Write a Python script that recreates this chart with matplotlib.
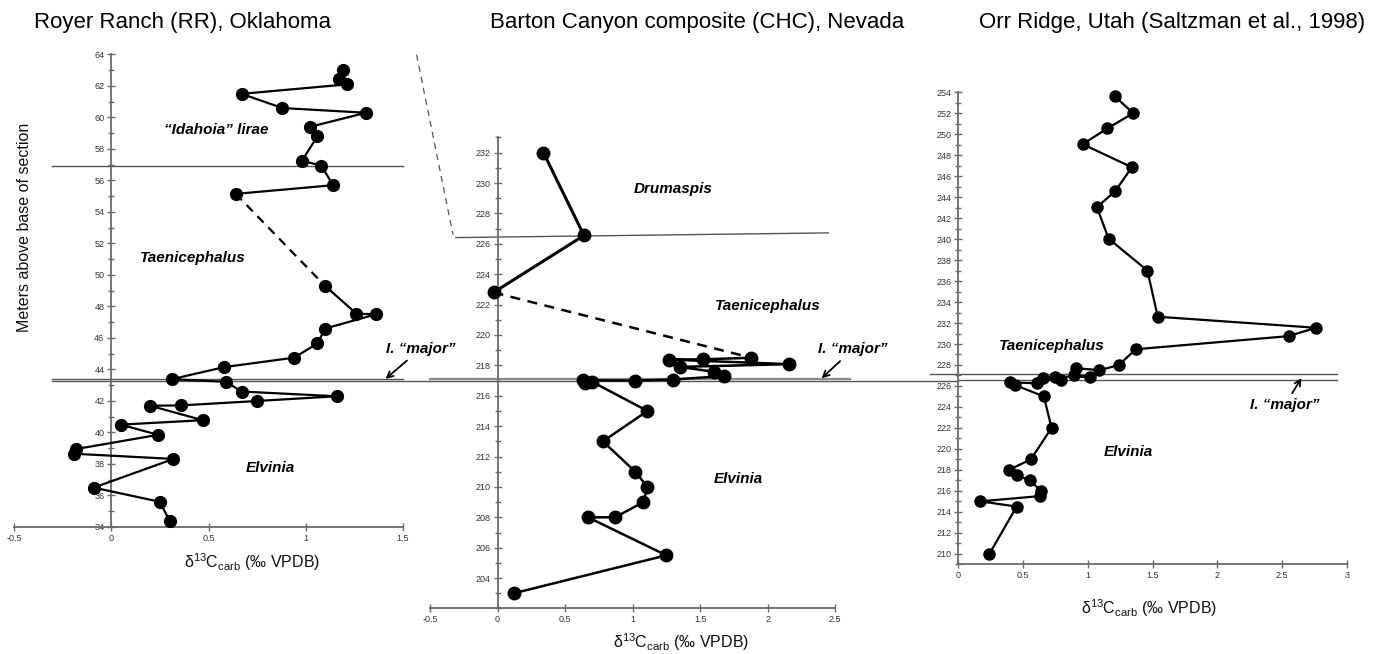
import numpy as np
import matplotlib
matplotlib.use('Agg')
import matplotlib.pyplot as plt
from matplotlib.ticker import MultipleLocator

plt.rcParams['font.family'] = ['Liberation Sans', 'DejaVu Sans']
plt.rcParams['mathtext.fontset'] = 'custom'
plt.rcParams['mathtext.rm'] = 'Liberation Sans'
plt.rcParams['mathtext.it'] = 'Liberation Sans:italic'

# Royer Ranch (RR), Oklahoma  -- d13C vs height (m)
rr_upper_d13c = [1.19, 1.17, 1.21, 0.67, 0.88, 1.31, 1.02, 1.06, 0.98, 1.08, 1.14, 0.64]
rr_upper_m    = [63.0, 62.45, 62.1, 61.5, 60.6, 60.3, 59.4, 58.8, 57.25, 56.95, 55.7, 55.15]
rr_lower_d13c = [1.10, 1.26, 1.36, 1.10, 1.06, 0.94, 0.58, 0.31, 0.59, 0.67, 1.16, 0.75,
                 0.36, 0.20, 0.47, 0.05, 0.24, -0.18, -0.19, 0.32, -0.09, 0.25, 0.30]
rr_lower_m    = [49.3, 47.55, 47.5, 46.6, 45.65, 44.75, 44.15, 43.38, 43.22, 42.6, 42.3, 42.0,
                 41.72, 41.7, 40.78, 40.5, 39.85, 38.95, 38.65, 38.32, 36.5, 35.6, 34.38]

# Barton Canyon composite (CHC), Nevada
chc_upper_d13c = [0.34, 0.64, -0.03]
chc_upper_m    = [232.0, 226.55, 222.8]
chc_lower_d13c = [1.88, 1.52, 1.27, 2.16, 1.35, 1.60, 1.68, 1.30, 1.02, 0.63, 0.65, 0.70,
                  1.11, 0.78, 1.02, 1.11, 1.08, 0.87, 0.67, 1.25, 0.12]
chc_lower_m    = [218.5, 218.4, 218.38, 218.08, 217.9, 217.58, 217.3, 217.07, 217.0, 217.02, 216.85, 216.92,
                  215.0, 213.0, 211.0, 210.0, 209.0, 208.0, 208.0, 205.5, 203.0]

# Orr Ridge, Utah (Saltzman et al., 1998)
orr_d13c = [1.21, 1.35, 1.15, 0.96, 1.34, 1.21, 1.07, 1.16, 1.46, 1.54, 2.76, 2.55, 1.37,
            1.24, 1.09, 0.91, 0.89, 1.02, 0.75, 0.79, 0.65, 0.61, 0.40, 0.44,
            0.66, 0.72, 0.56, 0.39, 0.45, 0.55, 0.64, 0.63, 0.17, 0.45, 0.24]
orr_m    = [253.6, 252.0, 250.55, 249.05, 246.85, 244.55, 243.05, 240.05, 237.0, 232.6, 231.55, 230.75, 229.5,
            228.0, 227.5, 227.7, 227.0, 226.88, 226.88, 226.55, 226.78, 226.25, 226.35, 226.08,
            225.0, 222.0, 219.0, 218.0, 217.5, 217.0, 216.0, 215.5, 215.0, 214.5, 210.0]

INK = '#000000'
AXC = '#6a6a6a'
TICKC = '#333333'
LINEC = '#555555'

fig = plt.figure(figsize=(13.74, 6.54), dpi=100, facecolor='white')
ax_rr = fig.add_axes([0.0102, 0.1942, 0.2831, 0.7225])
ax_chc = fig.add_axes([0.3130, 0.0696, 0.2948, 0.7202])
ax_orr = fig.add_axes([0.6975, 0.1372, 0.2827, 0.7217])


def style_axis(ax, xlim, ylim, xticks, ymajor, yminor=1):
    ax.set_xlim(*xlim)
    ax.set_ylim(*ylim)
    ax.patch.set_alpha(0)
    for s in ['top', 'right']:
        ax.spines[s].set_visible(False)
    ax.spines['left'].set_position(('data', 0))
    for s in ['left', 'bottom']:
        ax.spines[s].set_color(AXC)
        ax.spines[s].set_linewidth(1.3)
    ax.set_xticks(xticks)
    ax.set_xticklabels([('%g' % t) for t in xticks])
    ax.set_yticks(ymajor)
    ax.yaxis.set_minor_locator(MultipleLocator(yminor))
    ax.tick_params(axis='both', which='major', direction='inout', length=6, width=1,
                   color=AXC, labelsize=6.5, labelcolor=TICKC, pad=2)
    ax.tick_params(axis='y', which='minor', direction='inout', length=4, width=1, color=AXC)


def xlabel(ax, x, y):
    ax.text(x, y, 'δ$^{13}$C$_{\\mathrm{carb}}$ (‰ VPDB)', transform=ax.transAxes,
            ha='center', va='center', fontsize=11.5, color='#111111')


def zone(ax, x, y, s):
    ax.text(x, y, s, ha='center', va='center', fontsize=11, fontweight='bold',
            fontstyle='italic', color=INK)


def major_arrow(ax, tip, txt):
    ax.annotate('I. \u201cmajor\u201d', xy=tip, xytext=txt, ha='center', va='center',
                fontsize=11, fontweight='bold', fontstyle='italic', color=INK,
                annotation_clip=False,
                arrowprops=dict(arrowstyle='->', color=INK, lw=1.3, mutation_scale=11,
                                shrinkA=2, shrinkB=0))


# ---------------- Royer Ranch ----------------
style_axis(ax_rr, (-0.5, 1.5), (34, 64), [-0.5, 0, 0.5, 1, 1.5], np.arange(34, 65, 2))
ax_rr.plot(rr_upper_d13c, rr_upper_m, '-o', color=INK, lw=1.6, ms=8.5, clip_on=False, zorder=5)
ax_rr.plot(rr_lower_d13c, rr_lower_m, '-o', color=INK, lw=1.6, ms=8.5, clip_on=False, zorder=5)
ax_rr.plot([rr_upper_d13c[-1], rr_lower_d13c[0]], [rr_upper_m[-1], rr_lower_m[0]],
           '--', color=INK, lw=1.6, dashes=(4, 3), zorder=4)
ax_rr.axhline(56.92, xmin=0.098, xmax=1.0, color=LINEC, lw=1.0, clip_on=False)
ax_rr.axhline(43.42, xmin=0.098, xmax=1.0, color=LINEC, lw=1.0, clip_on=False)
ax_rr.axhline(43.27, xmin=0.098, xmax=1.07, color=LINEC, lw=1.0, clip_on=False)
zone(ax_rr, 0.54, 59.2, '\u201cIdahoia\u201d lirae')
zone(ax_rr, 0.42, 51.1, 'Taenicephalus')
zone(ax_rr, 0.82, 37.75, 'Elvinia')
major_arrow(ax_rr, (1.41, 43.4), (1.59, 45.3))
ax_rr.text(0.028, 0.635, 'Meters above base of section', transform=ax_rr.transAxes,
           rotation=90, ha='center', va='center', fontsize=11.5, color='#111111')
xlabel(ax_rr, 0.612, -0.074)

# ---------------- Barton Canyon ----------------
style_axis(ax_chc, (-0.5, 2.5), (202, 233), [-0.5, 0, 0.5, 1, 1.5, 2, 2.5], np.arange(204, 233, 2))
ax_chc.plot(chc_upper_d13c, chc_upper_m, '-o', color=INK, lw=2.2, ms=9, clip_on=False, zorder=5)
ax_chc.plot(chc_lower_d13c, chc_lower_m, '-o', color=INK, lw=1.8, ms=9, clip_on=False, zorder=5)
ax_chc.plot([chc_upper_d13c[-1], chc_lower_d13c[0]], [chc_upper_m[-1], chc_lower_m[0]],
            '--', color=INK, lw=1.8, dashes=(4, 3), zorder=4)
ax_chc.plot([-0.31, 2.45], [226.41, 226.72], color=LINEC, lw=1.0, clip_on=False)
ax_chc.plot([-0.60, -0.33], [238.45, 226.6], '--', color=LINEC, lw=0.9, dashes=(5, 4), clip_on=False)
ax_chc.axhline(217.13, xmin=0.0, xmax=1.037, color='#8a8a8a', lw=1.6, clip_on=False)
ax_chc.axhline(217.0, xmin=0.0, xmax=1.304, color=LINEC, lw=1.0, clip_on=False)
zone(ax_chc, 1.30, 229.6, 'Drumaspis')
zone(ax_chc, 2.0, 221.9, 'Taenicephalus')
zone(ax_chc, 1.78, 210.55, 'Elvinia')
major_arrow(ax_chc, (2.40, 217.15), (2.63, 219.05))
xlabel(ax_chc, 0.62, -0.071)

# ---------------- Orr Ridge ----------------
style_axis(ax_orr, (0, 3), (209, 254), [0, 0.5, 1, 1.5, 2, 2.5, 3], np.arange(210, 255, 2))
ax_orr.plot(orr_d13c, orr_m, '-o', color=INK, lw=1.6, ms=8, clip_on=False, zorder=5)
ax_orr.axhline(227.18, xmin=-0.073, xmax=0.975, color=LINEC, lw=1.0, clip_on=False)
ax_orr.axhline(226.56, xmin=0.0, xmax=0.975, color=LINEC, lw=1.0, clip_on=False)
zone(ax_orr, 0.72, 229.8, 'Taenicephalus')
zone(ax_orr, 1.31, 219.67, 'Elvinia')
major_arrow(ax_orr, (2.65, 226.75), (2.52, 224.15))
xlabel(ax_orr, 0.491, -0.0925)

# titles
fig.text(183 / 1374, 0.966, 'Royer Ranch (RR), Oklahoma', ha='center', va='center', fontsize=16)
fig.text(697 / 1374, 0.966, 'Barton Canyon composite (CHC), Nevada', ha='center', va='center', fontsize=16)
fig.text(1172 / 1374, 0.966, 'Orr Ridge, Utah (Saltzman et al., 1998)', ha='center', va='center', fontsize=16)

fig.savefig('out.png', dpi=100, facecolor='white')
